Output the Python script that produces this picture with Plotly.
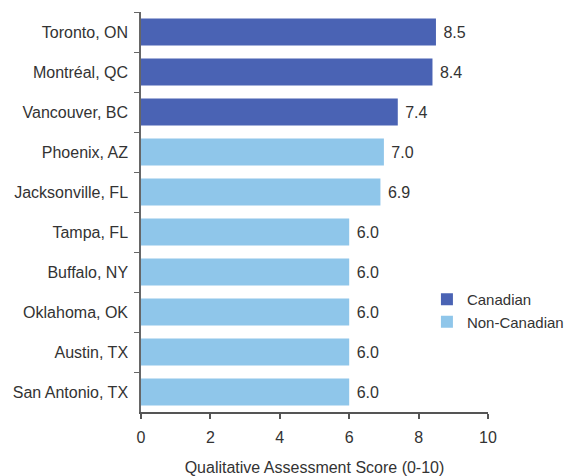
import plotly.graph_objects as go

cities = ["Toronto, ON", "Montréal, QC", "Vancouver, BC", "Phoenix, AZ", "Jacksonville, FL",
          "Tampa, FL", "Buffalo, NY", "Oklahoma, OK", "Austin, TX", "San Antonio, TX"]
scores = [8.5, 8.4, 7.4, 7.0, 6.9, 6.0, 6.0, 6.0, 6.0, 6.0]
groups = ["Canadian", "Canadian", "Canadian", "Non-Canadian", "Non-Canadian",
          "Non-Canadian", "Non-Canadian", "Non-Canadian", "Non-Canadian", "Non-Canadian"]
x_ticks = [0, 2, 4, 6, 8, 10]

colors = {"Canadian": "#4a63b4", "Non-Canadian": "#8fc6ea"}
FS = 16

fig = go.Figure()
for g in ["Canadian", "Non-Canadian"]:
    ys = [c for c, gg in zip(cities, groups) if gg == g]
    xs = [s for s, gg in zip(scores, groups) if gg == g]
    fig.add_trace(go.Bar(
        y=ys, x=xs, orientation="h", name=g,
        marker=dict(color=colors[g], line=dict(width=0)),
        text=[f"{v:.1f}" for v in xs], texttemplate=" %{text}", textposition="outside",
        textfont=dict(size=FS, color="#333333"), cliponaxis=False,
    ))

# page body adds an 8px margin; size the figure so the plot lands where the reference's does
fig.update_layout(
    width=566, height=468,
    margin=dict(l=133, r=86, t=4, b=64, autoexpand=False),
    barmode="overlay", bargap=0.32,
    plot_bgcolor="white", paper_bgcolor="white",
    font=dict(family="Liberation Sans, Arial, sans-serif", size=FS, color="#333333"),
    legend=dict(x=0.824, y=0.3225, xanchor="left", yanchor="top",
                font=dict(size=15, color="#333333"), bgcolor="rgba(0,0,0,0)",
                itemsizing="constant", tracegroupgap=0, itemwidth=30),
    showlegend=True,
)
fig.update_xaxes(
    range=[0, 10], tickvals=x_ticks, ticktext=[str(t) for t in x_ticks],
    showgrid=False, zeroline=False, showline=True, linecolor="#555555", linewidth=2,
    ticks="outside", ticklen=5, tickcolor="#555555", tickwidth=2, automargin=False,
    ticklabelstandoff=5,
    title=dict(text="Qualitative Assessment Score (0-10)", font=dict(size=FS), standoff=22),
)
fig.update_yaxes(
    categoryorder="array", categoryarray=cities, autorange="reversed",
    showgrid=False, showline=True, linecolor="#666666", linewidth=1.5, automargin=False,
    ticks="outside", tickson="boundaries", ticklen=5, tickcolor="#666666",
    ticklabelstandoff=8,
)

fig.write_html("out.html")
